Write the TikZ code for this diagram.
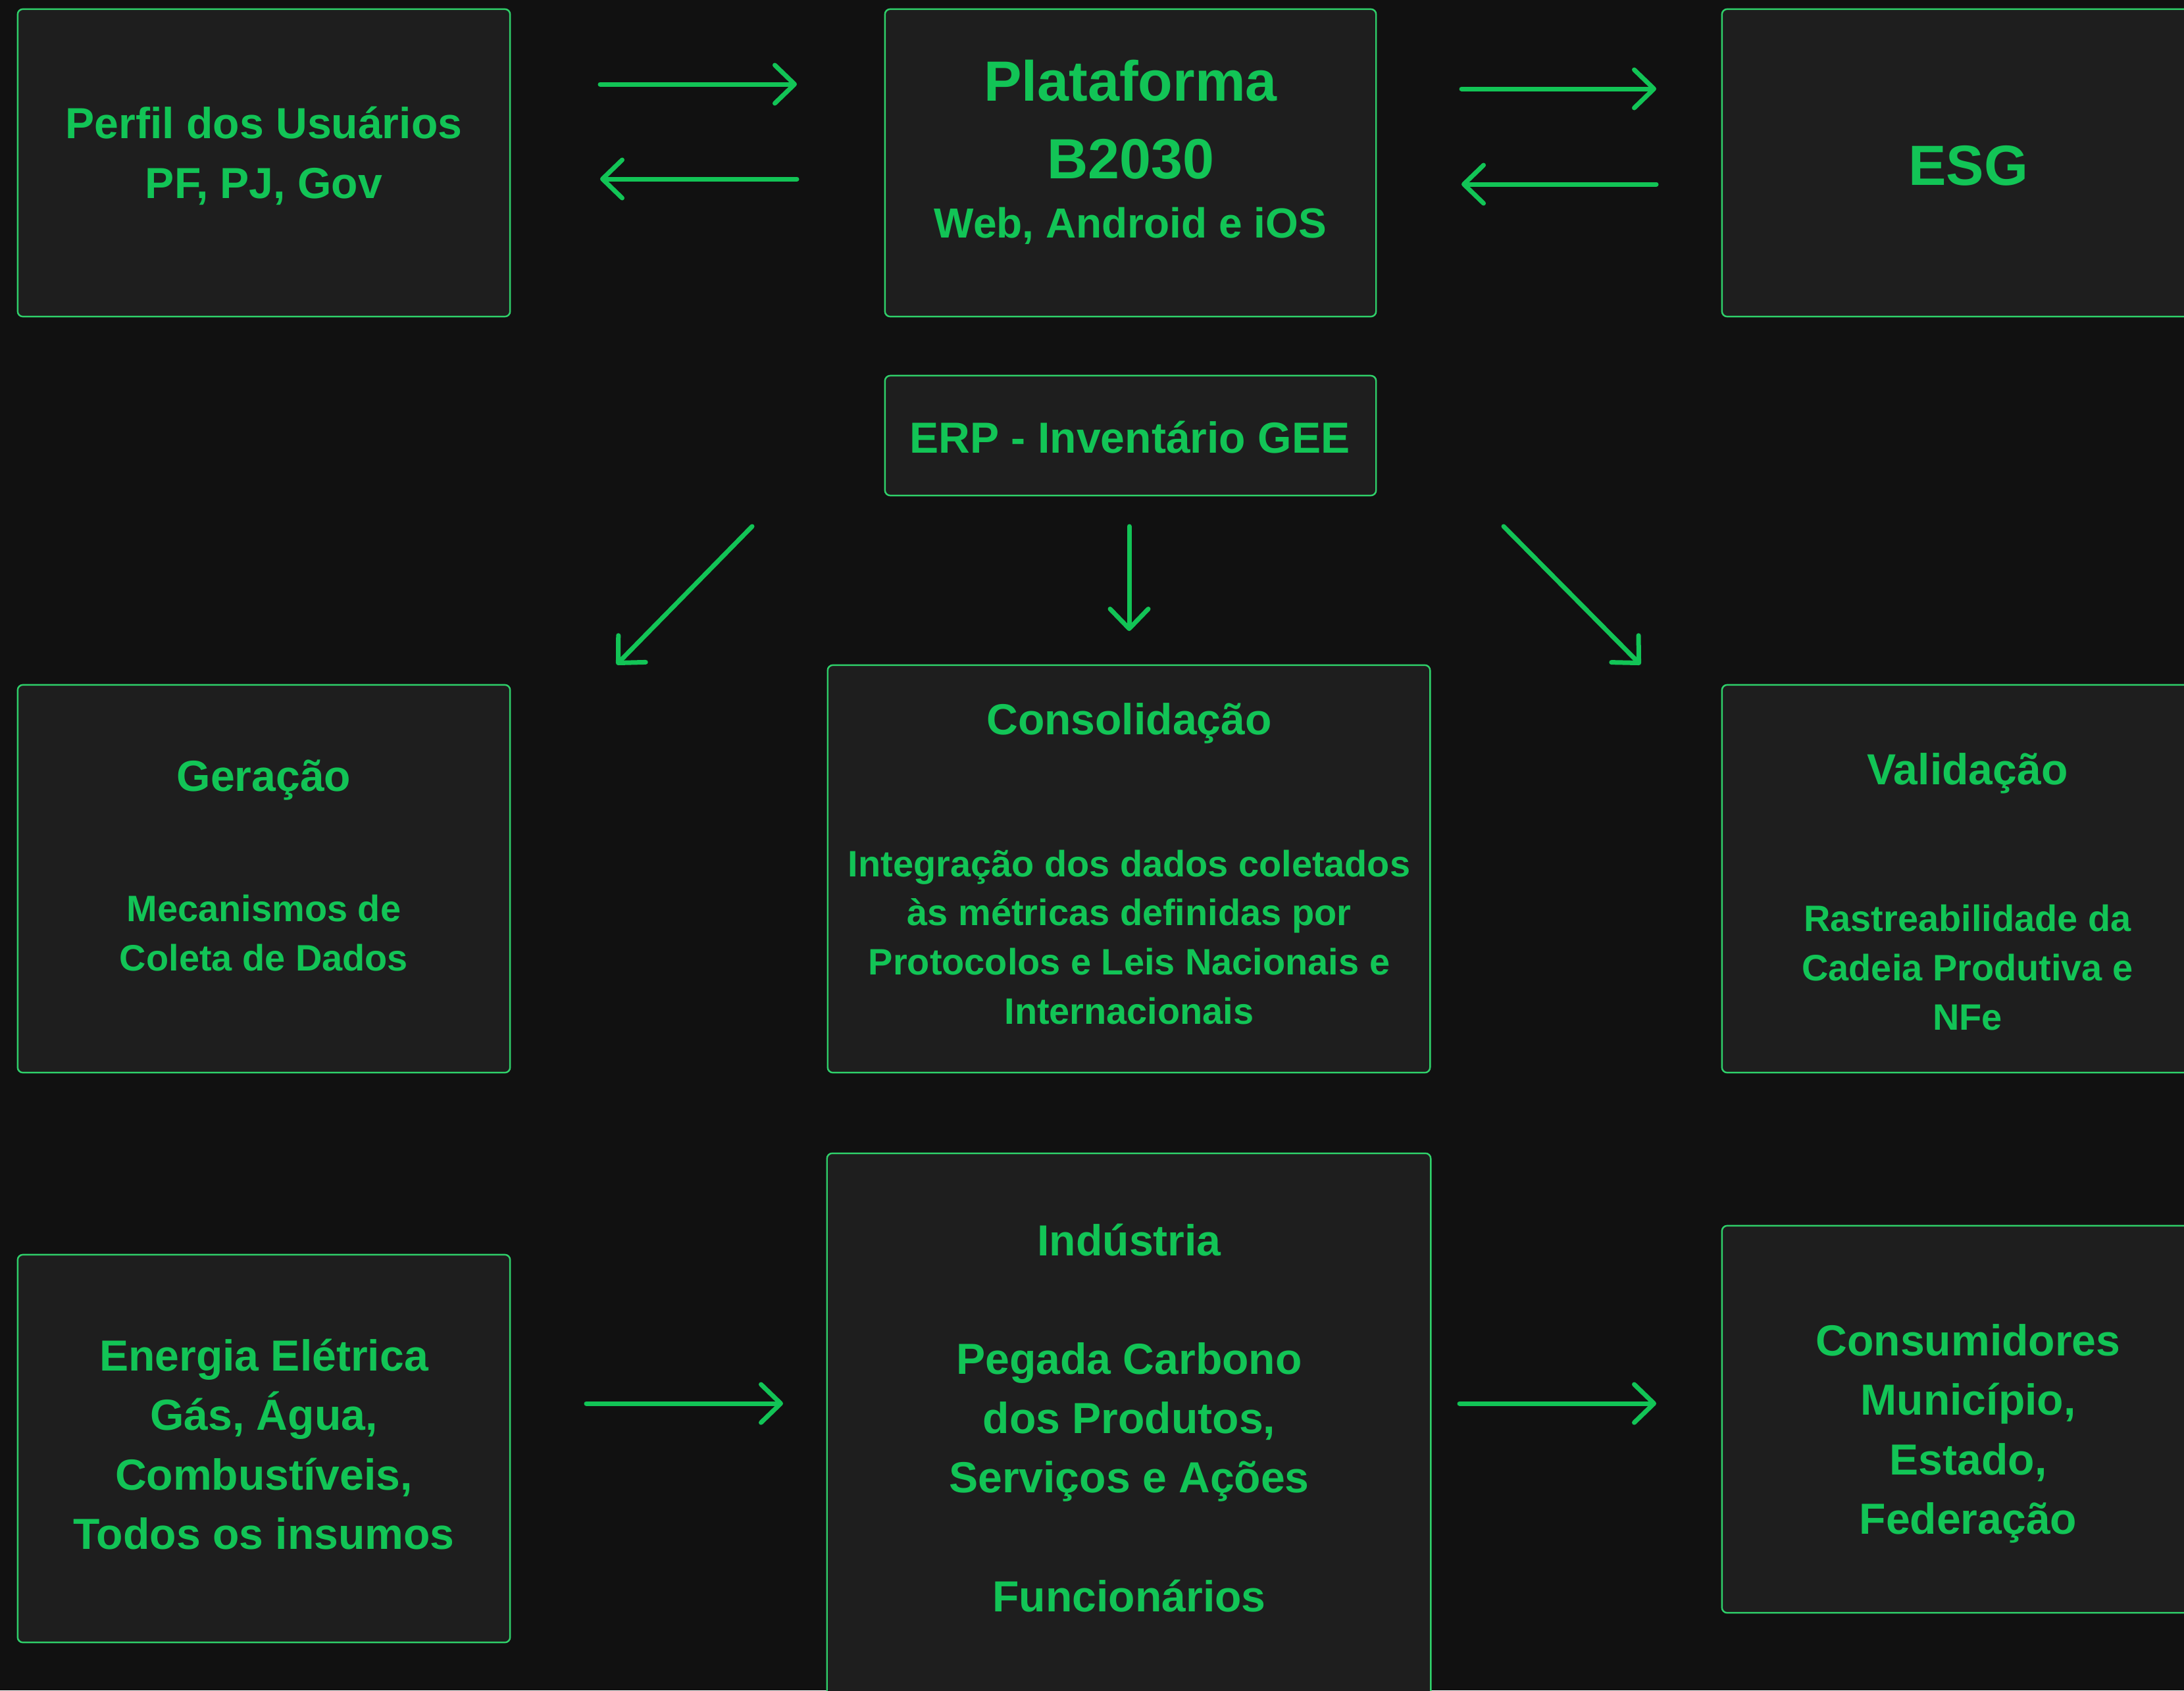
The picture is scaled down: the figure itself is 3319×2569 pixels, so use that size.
\documentclass[tikz,border=0pt]{standalone}
\usepackage{fontspec}
\setmainfont{Liberation Sans}
\usetikzlibrary{arrows.meta}
\definecolor{bgc}{HTML}{111111}
\definecolor{boxfill}{HTML}{1E1E1E}
\definecolor{grn}{HTML}{12C456}
\definecolor{edgec}{HTML}{2FD06A}
\newcommand\fMain{\fontsize{18.8pt}{25.6pt}\selectfont\bfseries}
\newcommand\fBig{\fontsize{24.5pt}{33.3pt}\selectfont\bfseries}
\newcommand\fMid{\fontsize{18.2pt}{24pt}\selectfont\bfseries}
\newcommand\fSmall{\fontsize{15.9pt}{21.2pt}\selectfont\bfseries}
\begin{document}
\begin{tikzpicture}[x=0.01cm,y=-0.01cm,
  box/.style={draw=edgec, line width=0.7pt, fill=boxfill, rounded corners=0.08cm, inner sep=0pt},
  lbl/.style={text=grn, align=center, inner sep=0pt, anchor=base},
  arr/.style={draw=grn, line width=0.07cm, line cap=round, -{Straight Barb[round,length=0.3cm,width=0.58cm]}},
]
\fill[bgc] (0,0) rectangle (3319,2569);
\useasboundingbox (0,0) rectangle (3319,2569);
\clip (0,0) rectangle (3319,2569);

% boxes
\node[box, minimum width=7.48cm, minimum height=4.67cm] (perfil) at (401,247.5) {};
\node[box, minimum width=7.46cm, minimum height=4.67cm] (plat) at (1718,247.5) {};
\node[box, minimum width=7.48cm, minimum height=4.67cm] (esg) at (2991,247.5) {};
\node[box, minimum width=7.46cm, minimum height=1.82cm] (erp) at (1718,662) {};
\node[box, minimum width=7.48cm, minimum height=5.89cm] (ger) at (401,1335.5) {};
\node[box, minimum width=9.15cm, minimum height=6.19cm] (cons) at (1715.5,1320.5) {};
\node[box, minimum width=7.48cm, minimum height=5.89cm] (val) at (2991,1335.5) {};
\node[box, minimum width=7.48cm, minimum height=5.89cm] (ener) at (401,2201.5) {};
\node[box, minimum width=9.17cm, minimum height=8.47cm] (ind) at (1715.5,2176.5) {};
\node[box, minimum width=7.48cm, minimum height=5.88cm] (consu) at (2991,2157) {};

% texts (multi-line nodes: base = last line's baseline)
\node[lbl, font=\fMain] (tperfil) at (401,301) {Perfil dos Usuários\\PF, PJ, Gov};
\node[lbl, font=\fBig] (tplat) at (1718,271) {Plataforma\\B2030};
\node[lbl, font=\fMid] (tweb) at (1718,361) {Web, Android e iOS};
\node[lbl, font=\fBig] (tesg) at (2991,281) {ESG};
\node[lbl, font=\fMain] (terp) at (1717,688) {ERP - Inventário GEE};
\node[lbl, font=\fMain] (tger) at (401,1202) {Geração};
\node[lbl, font=\fSmall] (tgerb) at (401,1475) {Mecanismos de\\Coleta de Dados};
\node[lbl, font=\fMain] (tcons) at (1716,1116) {Consolidação};
\node[lbl, font=\fSmall] (tconsb) at (1716,1556) {Integração dos dados coletados\\às métricas definidas por\\Protocolos e Leis Nacionais e\\Internacionais};
\node[lbl, font=\fMain] (tval) at (2990,1192) {Validação};
\node[lbl, font=\fSmall] (tvalb) at (2990,1565) {Rastreabilidade da\\Cadeia Produtiva e\\NFe};
\node[lbl, font=\fMain] (tener) at (401,2354) {Energia Elétrica\\Gás, Água,\\Combustíveis,\\Todos os insumos};
\node[lbl, font=\fMain] (tind) at (1716,2449) {Indústria\\[25.6pt]Pegada Carbono\\dos Produtos,\\Serviços e Ações\\[25.6pt]Funcionários};
\node[lbl, font=\fMain] (tconsu) at (2991,2331) {Consumidores\\Município,\\Estado,\\Federação};

% connector ends
\coordinate (a1s) at (912,128);  \coordinate (a1e) at (1211,128);
\coordinate (a2s) at (1211,272); \coordinate (a2e) at (912,272);
\coordinate (a3s) at (2221,135); \coordinate (a3e) at (2517,135);
\coordinate (a4s) at (2517,280); \coordinate (a4e) at (2221,280);
\coordinate (a5s) at (1143,800); \coordinate (a5e) at (937,1010);
\coordinate (a6s) at (1716,800); \coordinate (a6e) at (1716,959);
\coordinate (a7s) at (2285,800); \coordinate (a7e) at (2493,1010);
\coordinate (a8s) at (891,2133); \coordinate (a8e) at (1190,2133);
\coordinate (a9s) at (2218,2133); \coordinate (a9e) at (2517,2133);

\draw[arr] (a1s) -- (a1e);
\draw[arr] (a2s) -- (a2e);
\draw[arr] (a3s) -- (a3e);
\draw[arr] (a4s) -- (a4e);
\draw[arr] (a5s) -- (a5e);
\draw[arr] (a6s) -- (a6e);
\draw[arr] (a7s) -- (a7e);
\draw[arr] (a8s) -- (a8e);
\draw[arr] (a9s) -- (a9e);
\end{tikzpicture}
\end{document}
